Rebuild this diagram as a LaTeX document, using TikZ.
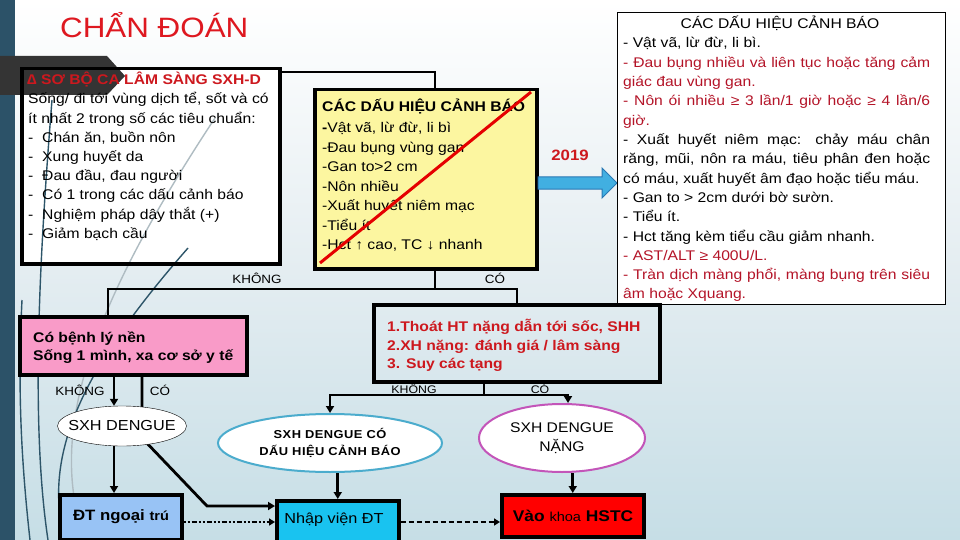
\documentclass[tikz,border=0pt]{standalone}
\usepackage{fontspec}
\setmainfont[FakeStretch=1.12]{Liberation Sans}
\usetikzlibrary{arrows.meta,shapes.geometric}
\definecolor{titlered}{RGB}{222,24,32}
\definecolor{boxred}{RGB}{205,24,30}
\definecolor{txtred}{RGB}{180,20,40}
\definecolor{yfill}{RGB}{252,246,160}
\definecolor{pfill}{RGB}{249,155,200}
\definecolor{lbfill}{RGB}{152,195,245}
\definecolor{cyfill}{RGB}{25,195,240}
\definecolor{ellblue}{RGB}{75,172,205}
\definecolor{ellmag}{RGB}{195,85,185}
\definecolor{arrfill}{RGB}{65,175,225}
\definecolor{arrline}{RGB}{40,120,180}
\definecolor{barcol}{RGB}{44,82,104}
\definecolor{tabcol}{RGB}{52,52,52}
\definecolor{bgmid}{RGB}{228,237,241}
\definecolor{bgbot}{RGB}{198,222,230}
\definecolor{swgray}{RGB}{175,188,194}
\definecolor{swteal}{RGB}{45,85,105}
\newcommand{\myfs}[2]{\fontsize{#1}{#2}\selectfont}
\begin{document}
\begin{tikzpicture}[x=1pt,y=-1pt,
  conn/.style={line width=2.8pt,draw=black},
  arr/.style={conn,-{Triangle[length=7pt,width=8pt]}},
  thickbox/.style={draw=black,line width=3.5pt,anchor=north west,inner sep=0pt},
  lbl/.style={font=\myfs{12}{14},inner sep=0pt},
  ln/.style={anchor=base west,inner sep=0pt,font=\myfs{14}{16}},
  rln/.style={anchor=base west,inner sep=0pt,font=\myfs{14}{16}},
  hl/.style={anchor=base west,inner sep=0pt,font=\myfs{14}{16}\bfseries,text=boxred},
  ell/.style={draw,ellipse,fill=white,inner sep=0pt,align=center},
  swoosh/.style={line width=1.4pt},
]
\useasboundingbox (0,0) rectangle (960,540);
% background
\shade[top color=white, bottom color=bgbot, middle color=bgmid] (0,0) rectangle (960,540);
\fill[barcol] (0,0) rectangle (15,540);

% title
\node[anchor=base west,inner sep=0pt,font=\myfs{28}{32},text=titlered] (title) at (60,38) {CHẨN ĐOÁN};

% left box
\fill[white] (20,67) rectangle (278,262);
\fill[tabcol] (0,56) -- (107,56) -- (125,76) -- (107,95) -- (0,95) -- cycle;
\draw[swoosh,swteal] (48,540) .. controls (30,420) and (40,250) .. (52,100);
\draw[swoosh,swgray] (85,540) .. controls (45,430) and (95,300) .. (215,118);
\draw[swoosh,swteal] (65,540) .. controls (40,450) and (90,360) .. (188,248);
\draw[swoosh,swteal] (30,540) .. controls (20,450) and (18,380) .. (22,300);
\node[thickbox,minimum width=258pt,minimum height=195pt] (lbox) at (20,67) {};
\node[hl] (lt0) at (27,85) {∆ SƠ BỘ CA LÂM SÀNG SXH-D};
\foreach \t [count=\i] in {{Sống/ đi tới vùng dịch tể, sốt và có},
  {ít nhất 2 trong số các tiêu chuẩn:},
  {\makebox[14pt][l]{-}Chán ăn, buồn nôn},
  {\makebox[14pt][l]{-}Xung huyết da},
  {\makebox[14pt][l]{-}Đau đầu, đau người},
  {\makebox[14pt][l]{-}Có 1 trong các dấu cảnh báo},
  {\makebox[14pt][l]{-}Nghiệm pháp dây thắt (+)},
  {\makebox[14pt][l]{-}Giảm bạch cầu}}
  \node[ln] (lt\i) at (28,{104+19.2*(\i-1)}) {\t};

% yellow box
\node[thickbox,fill=yfill,minimum width=222pt,minimum height=179pt] (ybox) at (313,88) {};
\node[ln,font=\myfs{14}{16}\bfseries] (yt0) at (322,112) {CÁC DẤU HIỆU CẢNH BÁO};
\foreach \t [count=\i] in {{{\bfseries -}Vật vã, lừ đừ, li bì},
  {-Đau bụng vùng gan},{-Gan to>2 cm},{-Nôn nhiều},{-Xuất huyết niêm mạc},
  {-Tiểu ít},{-Hct ↑ cao, TC ↓ nhanh}}
  \node[ln] (yt\i) at (322,{133+19.4*(\i-1)}) {\t};
\draw[line width=3pt,red!90!black] (320,263) -- (531,92);

% 2019 arrow
\node[anchor=center,inner sep=0pt,font=\myfs{15}{18}\bfseries,text=boxred] (yr) at (570,155) {2019};
\draw[arrline,fill=arrfill,line width=1pt] (538,177) -- (602,177) -- (602,168) -- (617,183) -- (602,198) -- (602,189) -- (538,189) -- cycle;

% right box
\node[draw=black,line width=1pt,fill=white,anchor=north west,inner sep=0pt,minimum width=328pt,minimum height=292pt] (rbox) at (617,12) {};
\node[anchor=base,inner sep=0pt,font=\myfs{14}{16}] (rt0) at (780,29) {CÁC DẤU HIỆU CẢNH BÁO};
\foreach \t [count=\i] in {{- Vật vã, lừ đừ, li bì.},
  {\color{txtred}\makebox[307pt][s]{- Đau bụng nhiều và liên tục hoặc tăng cảm}},
  {\color{txtred}giác đau vùng gan.},
  {\color{txtred}\makebox[307pt][s]{- Nôn ói nhiều ≥ 3 lần/1 giờ hoặc ≥ 4 lần/6}},
  {\color{txtred}giờ.},
  {\makebox[307pt][s]{- Xuất huyết niêm mạc: chảy máu chân}},
  {\makebox[307pt][s]{răng, mũi, nôn ra máu, tiêu phân đen hoặc}},
  {có máu, xuất huyết âm đạo hoặc tiểu máu.},
  {- Gan to > 2cm dưới bờ sườn.},
  {- Tiểu ít.},
  {- Hct tăng kèm tiểu cầu giảm nhanh.},
  {\color{txtred}- AST/ALT ≥ 400U/L.},
  {\color{txtred}\makebox[307pt][s]{- Tràn dịch màng phổi, màng bụng trên siêu}},
  {\color{txtred}âm hoặc Xquang.}}
  \node[rln] (rt\i) at (623,{48+19.3*(\i-1)}) {\t};

% pink box
\node[thickbox,line width=4pt,fill=pfill,minimum width=227pt,minimum height=58pt] (pbox) at (18,315) {};
\node[ln,font=\myfs{14}{16}\bfseries] (pt1) at (33,342) {Có bệnh lý nền};
\node[ln,font=\myfs{14}{16}\bfseries] (pt2) at (33,360) {Sống 1 mình, xa cơ sở y tế};

% severe criteria box
\node[thickbox,line width=4pt,minimum width=286pt,minimum height=77pt] (hbox) at (372,303) {};
\node[hl] (ht1) at (387,331) {1.Thoát HT nặng dẫn tới sốc, SHH};
\node[hl] (ht2) at (387,350) {2.XH nặng: đánh giá / lâm sàng};
\node[hl] (ht3) at (387,368) {3. Suy các tạng};

% bottom boxes
\node[thickbox,fill=lbfill,minimum width=122pt,minimum height=45pt] (dbox) at (58,493) {};
\node[inner sep=0pt,font=\myfs{15}{17}] (dt) at (121,517) {\textbf{ĐT ngoại} {\myfs{13}{15}\bfseries trú}};
\node[thickbox,fill=cyfill,minimum width=122pt,minimum height=42pt] (nbox) at (275,499) {};
\node[inner sep=0pt,font=\myfs{14.5}{17}] (nt) at (334,520) {Nhập viện ĐT};
\node[thickbox,fill=red,minimum width=142pt,minimum height=42pt] (vbox) at (500,493) {};
\node[inner sep=0pt,font=\myfs{15.5}{17}] (vt) at (573,516) {\textbf{Vào} {\myfs{13}{15}khoa} \textbf{HSTC}};

% path hidden partly behind the first ellipse
\coordinate (pc1) at (114,380);
\coordinate (pc2) at (142,438);
\coordinate (pc3) at (207,506);
\draw[arr] (pc2 |- pbox.south) -- (pc2) -- (pc3) -- (pc3 -| nbox.west);

% ellipses
\node[ell,minimum width=129pt,minimum height=40pt,font=\myfs{14.5}{17}] (e1) at (122,426) {\makebox[0pt]{SXH DENGUE}};
\node[ell,draw=ellblue,line width=2pt,minimum width=224pt,minimum height=58pt,font=\myfs{11.5}{17}\bfseries\addfontfeature{LetterSpace=4}] (e2) at (330,443) {SXH DENGUE CÓ\\DẤU HIỆU CẢNH BÁO};
\node[ell,draw=ellmag,line width=2pt,minimum width=166pt,minimum height=68pt,font=\myfs{14}{19.5}] (e3) at (562,438) {SXH DENGUE\\NẶNG};

% connectors
\coordinate (ja) at (435,72);
\draw[conn] (lbox.east |- ja) -- (ja) -- (ja |- ybox.north);
\coordinate (jb) at (435,289);
\coordinate (jbl) at (108,289);
\coordinate (jbr) at (517,289);
\draw[conn] (jb |- ybox.south) -- (jb);
\draw[conn] (jbl |- pbox.north) -- (jbl) -- (jbr) -- (jbr |- hbox.north);

\draw[arr] (pc1 |- pbox.south) -- (pc1 |- e1.north);
\draw[arr] (pc1 |- e1.south) -- (pc1 |- dbox.north);

\coordinate (jd) at (484,395);
\coordinate (jdl) at (330,395);
\coordinate (jdr) at (568,395);
\draw[arr] (jd |- hbox.south) -- (jd) -- (jdl) -- (jdl |- e2.north);
\draw[arr] (jd) -- (jdr) -- (jdr |- e3.north);
\draw[arr] (e2.south -| nbox.north) -- (nbox.north);
\draw[arr] (e3.south -| vbox.north) -- (vbox.north);

\coordinate (jf) at (0,522);
\draw[line width=1.6pt,dash pattern=on 2pt off 2pt on 2pt off 2pt on 5pt off 2pt,-{Triangle[length=6pt,width=7pt]}] (dbox.east |- jf) -- (nbox.west |- jf);
\draw[line width=1.6pt,dash pattern=on 5pt off 3pt,-{Triangle[length=6pt,width=7pt]}] (nbox.east |- jf) -- (vbox.west |- jf);

% labels
\node[lbl] (k1) at (257,278) {KHÔNG};
\node[lbl] (c1) at (495,278) {CÓ};
\node[lbl] (k2) at (80,390) {KHÔNG};
\node[lbl] (c2) at (160,390) {CÓ};
\node[lbl,font=\myfs{11}{13}] (k3) at (414,389) {KHÔNG};
\node[lbl,font=\myfs{11}{13}] (c3) at (540,389) {CÓ};
\end{tikzpicture}
\end{document}
